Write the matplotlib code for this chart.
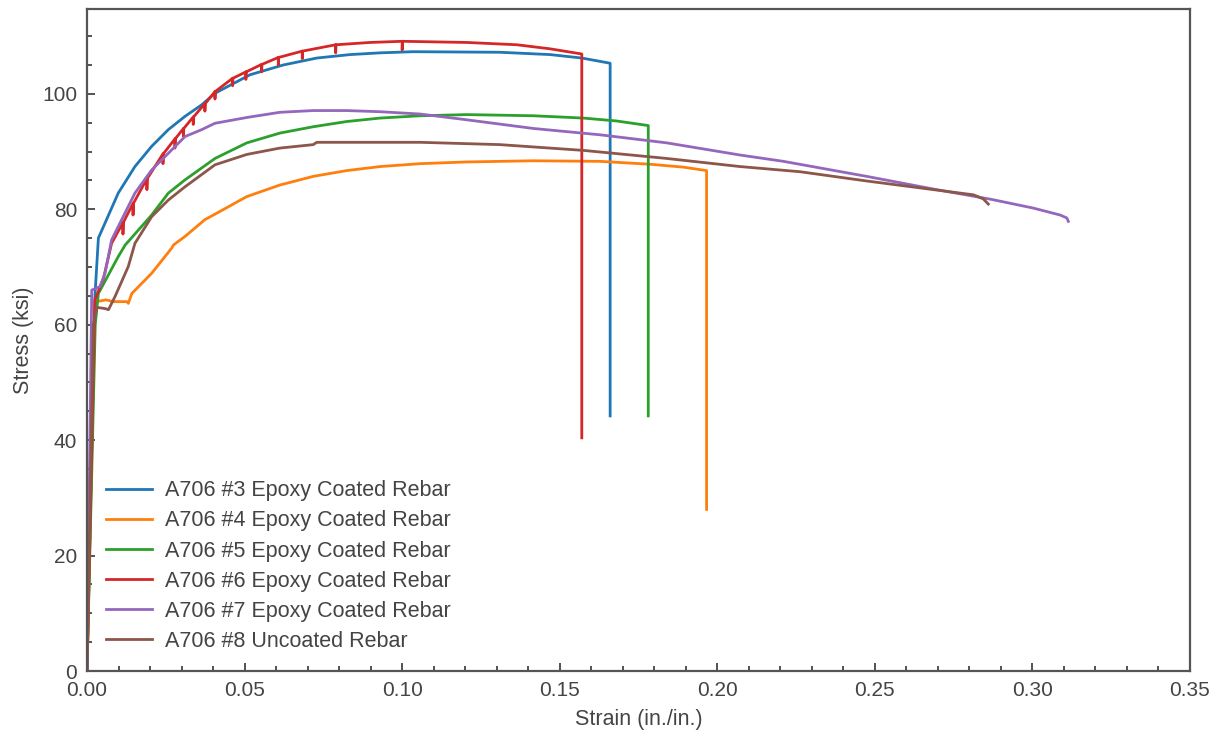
import matplotlib
matplotlib.use("Agg")
import matplotlib.pyplot as plt
from matplotlib.ticker import MultipleLocator, FormatStrFormatter

plt.rcParams['font.family'] = ['Liberation Sans', 'DejaVu Sans']

labels = ["A706 #3 Epoxy Coated Rebar", "A706 #4 Epoxy Coated Rebar",
          "A706 #5 Epoxy Coated Rebar", "A706 #6 Epoxy Coated Rebar",
          "A706 #7 Epoxy Coated Rebar", "A706 #8 Uncoated Rebar"]
colors = ["#1f77b4", "#ff7f0e", "#2ca02c", "#d62728", "#9467bd", "#8c564b"]

strain_3 = [0.0, 0.0025, 0.0036, 0.0057, 0.0099, 0.0152, 0.0205, 0.0258, 0.0311, 0.0364,
            0.0406, 0.0517, 0.0623, 0.0729, 0.0835, 0.093, 0.1035, 0.131, 0.1469, 0.157,
            0.166, 0.166]
stress_3 = [0.0, 64.9, 75.0, 77.6, 82.8, 87.4, 90.9, 93.8, 96.1, 98.1,
            100.1, 103.3, 105.0, 106.2, 106.8, 107.1, 107.3, 107.2, 106.8, 106.2,
            105.3, 44.2]

strain_4 = [0.0, 0.0024, 0.0031, 0.0060, 0.0084, 0.0126, 0.0131, 0.0142, 0.0205, 0.0269,
            0.0274, 0.0311, 0.0374, 0.0401, 0.0507, 0.0612, 0.0718, 0.0824, 0.093, 0.1057,
            0.1205, 0.1416, 0.1628, 0.1787, 0.1892, 0.1966, 0.1966]
stress_4 = [0.0, 60.0, 64.0, 64.3, 64.0, 64.0, 63.7, 65.4, 68.9, 73.3,
            73.8, 75.3, 78.2, 79.0, 82.2, 84.2, 85.7, 86.7, 87.4, 87.9,
            88.2, 88.4, 88.3, 87.8, 87.3, 86.7, 28.0]

strain_5 = [0.0, 0.0026, 0.0036, 0.0099, 0.0121, 0.0205, 0.0258, 0.0311, 0.0406,
            0.0507, 0.0612, 0.0718, 0.0824, 0.093, 0.1057, 0.1205, 0.1416, 0.1575, 0.168,
            0.1781, 0.1781]
stress_5 = [0.0, 60.0, 65.4, 71.8, 73.8, 79.0, 82.8, 85.1, 88.8,
            91.5, 93.2, 94.3, 95.2, 95.8, 96.2, 96.4, 96.2, 95.8, 95.3,
            94.5, 44.2]

strain_6 = [0.0, 0.0022, 0.0025, 0.0052, 0.0078,
            0.0114, 0.0114, 0.0115,
            0.0146, 0.0146, 0.0147,
            0.0190, 0.0190, 0.0191,
            0.0241, 0.0241, 0.0242,
            0.0279, 0.0279, 0.0280,
            0.0306, 0.0306, 0.0307,
            0.0337, 0.0337, 0.0338,
            0.0374, 0.0374, 0.0375,
            0.0406, 0.0406, 0.0407,
            0.0462, 0.0462, 0.0463,
            0.0504, 0.0504, 0.0505,
            0.0554, 0.0554, 0.0555,
            0.0607, 0.0607, 0.0608,
            0.0683, 0.0683, 0.0684,
            0.0789, 0.0789, 0.0790,
            0.0898,
            0.1000, 0.1000, 0.1001,
            0.1205, 0.1364, 0.1469, 0.157, 0.157]
stress_6 = [0.0, 58.0, 64.3, 68.0, 74.1,
            77.7, 75.7, 77.7,
            81.0, 79.0, 81.0,
            85.3, 83.4, 85.3,
            89.6, 87.9, 89.6,
            92.2, 90.6, 92.2,
            94.0, 92.6, 94.0,
            96.0, 94.7, 96.0,
            98.3, 97.0, 98.3,
            100.4, 99.1, 100.4,
            102.7, 101.4, 102.7,
            103.8, 102.5, 103.8,
            105.1, 103.8, 105.1,
            106.3, 105.0, 106.3,
            107.4, 106.1, 107.4,
            108.5, 107.1, 108.5,
            108.9,
            109.1, 107.6, 109.1,
            108.9, 108.5, 107.8, 106.9, 40.4]

strain_7 = [0.0, 0.0015, 0.0041, 0.0057, 0.0078, 0.0152, 0.0205, 0.0258, 0.0311, 0.0364,
            0.0406, 0.0507, 0.0612, 0.0718, 0.0824, 0.093, 0.1057, 0.1205, 0.1416, 0.1628,
            0.184, 0.2072, 0.221, 0.2474, 0.2686, 0.2871, 0.3003, 0.3088, 0.3109, 0.3114]
stress_7 = [0.0, 66.0, 66.6, 68.9, 74.7, 82.8, 86.8, 89.7, 92.6, 93.8,
            94.9, 95.9, 96.8, 97.1, 97.1, 96.9, 96.5, 95.5, 94.0, 92.9,
            91.5, 89.4, 88.3, 85.7, 83.5, 81.7, 80.2, 79.0, 78.5, 77.9]

strain_8 = [0.0, 0.0020, 0.0031, 0.0057, 0.0068, 0.0089, 0.0131, 0.0152, 0.0205, 0.0258,
            0.0311, 0.0406, 0.0507, 0.0612, 0.0718, 0.0729, 0.0824,
            0.1057, 0.131, 0.1575, 0.184, 0.2072, 0.2263, 0.2474, 0.2686, 0.2813, 0.2844,
            0.286]
stress_8 = [0.0, 60.0, 63.0, 62.8, 62.6, 64.9, 70.1, 74.1, 78.7, 81.6,
            83.9, 87.7, 89.5, 90.6, 91.2, 91.6, 91.6,
            91.6, 91.2, 90.2, 88.8, 87.4, 86.5, 84.9, 83.4, 82.5, 81.8,
            80.9]

strains = [strain_3, strain_4, strain_5, strain_6, strain_7, strain_8]
stresses = [stress_3, stress_4, stress_5, stress_6, stress_7, stress_8]

fig = plt.figure(figsize=(12.19, 7.30), dpi=100)
ax = fig.add_axes([0.0714, 0.0808, 0.9048, 0.9069])

for sx, sy, c, lab in zip(strains, stresses, colors, labels):
    ax.plot(sx, sy, color=c, lw=2, label=lab, solid_joinstyle='round')

ax.set_xlim(0, 0.35)
ax.set_ylim(0, 114.7)
ax.xaxis.set_major_locator(MultipleLocator(0.05))
ax.xaxis.set_minor_locator(MultipleLocator(0.01))
ax.yaxis.set_major_locator(MultipleLocator(20))
ax.yaxis.set_minor_locator(MultipleLocator(5))
ax.xaxis.set_major_formatter(FormatStrFormatter('%.2f'))

gc = '#444444'
ax.tick_params(which='both', direction='in', top=False, right=False, colors=gc,
               labelsize=15, width=1.3)
ax.tick_params(which='major', length=6, pad=7)
ax.tick_params(which='minor', length=3.5)
for s in ax.spines.values():
    s.set_color('#555555')
    s.set_linewidth(1.6)

ax.set_xlabel("Strain (in./in.)", fontsize=15.5, color=gc, labelpad=7)
ax.set_ylabel("Stress (ksi)", fontsize=15.5, color=gc, labelpad=6)

leg = ax.legend(loc='lower left', bbox_to_anchor=(0.0, 0.0), frameon=False,
                fontsize=15.5, handlelength=2.1, handletextpad=0.6, labelspacing=0.42)
for t in leg.get_texts():
    t.set_color(gc)

fig.savefig("out.png", dpi=100)
